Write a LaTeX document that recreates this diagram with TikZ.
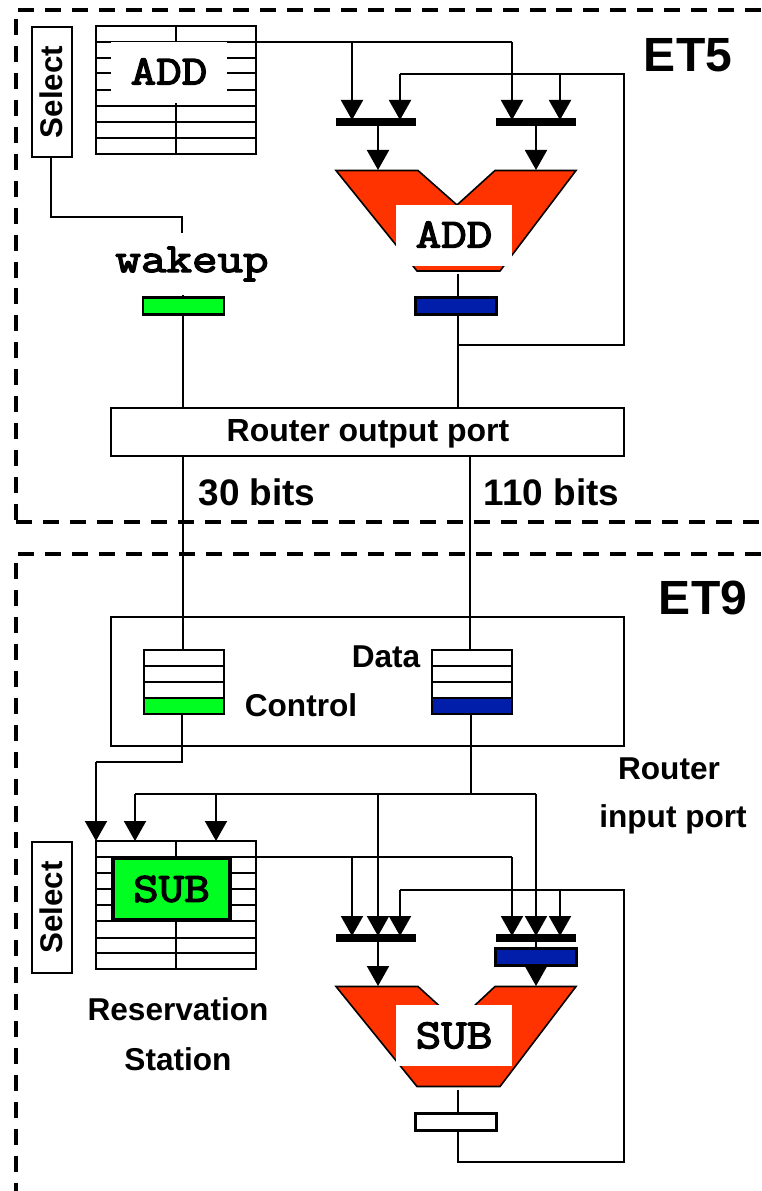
\documentclass[tikz,border=0pt]{standalone}
\usepackage{fontspec}
\setmainfont{Liberation Sans}
\newfontfamily\slabfont[FakeBold=3.4,FakeStretch=1.2]{Latin Modern Mono}
\usetikzlibrary{arrows.meta,calc}
\definecolor{alured}{RGB}{255,51,0}
\definecolor{busgreen}{RGB}{0,255,33}
\definecolor{busblue}{RGB}{0,30,170}
\tikzset{
  px/.style={x=0.75pt,y=-0.75pt},
  wire/.style={draw=black,line width=1.5pt,line cap=butt,line join=miter},
  feed/.style={wire,-{Triangle[length=15pt,width=16.5pt]},shorten >=0pt},
  region/.style={draw=black,line width=2.8pt,dash pattern=on 12pt off 8.2pt},
  mux/.style={fill=black,draw=none,inner sep=0pt,outer sep=0pt,minimum width=60pt,minimum height=6pt},
  reg/.style={draw=black,line width=1.8pt,inner sep=0pt,outer sep=0pt,minimum width=60.5pt,minimum height=12.5pt},
  alu/.style={draw=black,fill=alured,line width=1.2pt,line join=miter},
  sanslabel/.style={font=\fontsize{23.7}{28}\selectfont\bfseries,inner sep=0pt},
  bitslabel/.style={font=\fontsize{27.7}{32}\selectfont\bfseries,inner sep=0pt},
  etlabel/.style={font=\fontsize{36}{40}\selectfont\bfseries,inner sep=0pt},
  monolabel/.style={font=\fontsize{31}{32}\slabfont,inner sep=0pt},
  whitelabel/.style={monolabel,fill=white,minimum width=87pt,minimum height=45.5pt},
  greenlabel/.style={monolabel,fill=busgreen,draw=black,line width=3pt,minimum width=88pt,minimum height=46pt},
  selectbox/.style={draw=black,fill=white,line width=1.5pt,inner sep=0pt,minimum width=98pt,minimum height=29.5pt,rotate=90,font=\fontsize{23.5}{26}\selectfont\bfseries},
}
\begin{document}
\begin{tikzpicture}[px]
\useasboundingbox (0,0) rectangle (761,1191);
% ---- regions
\coordinate (e5tl) at (16,10); \coordinate (e5tr) at (761,10);
\coordinate (e5bl) at (16,522); \coordinate (e5br) at (761,522);
\coordinate (e9tl) at (16,554); \coordinate (e9tr) at (761,554);
\coordinate (e9bl) at (16,1191);
\draw[region] (e5tr) -- (e5tl) -- (e5bl);
\draw[region] (e5bl) -- (e5br);
\draw[region] (e9tr) -- (e9tl) -- (e9bl);
\node[etlabel] (et5) at (688,55) {ET5};
\node[etlabel] (et9) at (703,598) {ET9};

% ---- ET5 reservation table
\foreach \y in {26,42,58,73,90,106,122,138,154}{\draw[wire] (96,\y) -- (256,\y);}
\draw[wire] (96,26) rectangle (256,154);
\draw[wire] (176,26) -- (176,154);
\node[whitelabel] (addrs) at (169,72.5) {\raisebox{1.6pt}{ADD}};
\node[selectbox] (sel5) at (52,92) {\raisebox{1.5pt}{Select}};

% ---- ET5 adder
\coordinate (a1) at (336,170.5); \coordinate (a2) at (418,170.5); \coordinate (a3) at (457,205);
\coordinate (a4) at (495,170.5); \coordinate (a5) at (576,170.5); \coordinate (a6) at (500,271); \coordinate (a7) at (417,271);
\draw[alu] (a1) -- (a2) -- (a3) -- (a4) -- (a5) -- (a6) -- (a7) -- cycle;
\node[whitelabel] (addalu) at (454,235.5) {\raisebox{1.4pt}{ADD}};
\node[mux] (m1) at (376,122) {};
\node[mux] (m2) at (536,122) {};
\node[reg,fill=busgreen] (rg5) at (183.5,306) {};
\node[reg,fill=busblue] (rb5) at (456,306) {};
\node[monolabel] (wk) at (192,264) {wakeup};
\node[draw=black,fill=white,line width=1.5pt,inner sep=0pt,minimum width=384.5pt,minimum height=36pt] (rout) at (367.5,432) {};
\node[sanslabel,font=\fontsize{24}{28}\selectfont\bfseries] (routl) at (368,434) {Router output port};
\node[bitslabel] (b30) at (257,492.5) {30 bits};
\node[bitslabel] (b110) at (551.5,492.5) {110 bits};

% ET5 wires
\coordinate (t5r) at (256,42); \coordinate (t5a) at (352,42); \coordinate (t5b) at (512,42);
\draw[wire] (t5r) -- (t5b);
\draw[feed] (t5a) -- (352,120);
\draw[feed] (t5b) -- (512,120);
\coordinate (fb1) at (400,74); \coordinate (fb2) at (560,74); \coordinate (fb3) at (624,74); \coordinate (fb4) at (624,345); \coordinate (fb5) at (458,345);
\draw[wire] (fb5) -- (fb4) -- (fb3) -- (fb1);
\draw[feed] (fb1) -- (400,120);
\draw[feed] (fb2) -- (560,120);
\draw[feed] (378,125) -- (378,170);
\draw[feed] (536,125) -- (536,170);
\draw[wire] (458,274) -- (458,297);
\draw[wire] (458,315) -- (458,408);
\draw[wire] (183,295) -- (183,297);
\draw[wire] (183,315) -- (183,408);
\draw[wire] (51,158) -- (51,217) -- (182,217) -- (182,233);

% ---- router input port
\draw[wire] (111,617) rectangle (624,746);
\draw[wire] (183,456) -- (183,650);
\draw[wire] (470,456) -- (470,650);
\foreach \x in {143.5,432}{
  \draw[wire,fill=white] (\x,650) rectangle ++(80,64);
  \foreach \y in {666,682,698}{\draw[wire] (\x,\y) -- ++(80,0);}
}
\draw[wire,fill=busgreen] (143.5,698) rectangle (223.5,714);
\draw[wire,fill=busblue] (432,698) rectangle (512,714);
\node[sanslabel] (dat) at (386,657) {Data};
\node[sanslabel] (ctl) at (301,705) {Control};
\node[sanslabel] (rip1) at (669,769) {Router};
\node[sanslabel] (rip2) at (673,819) {input port};

% ---- ET9 reservation table
\foreach \y in {841,857,873,889,905,921,938,953,969}{\draw[wire] (96,\y) -- (256,\y);}
\draw[wire] (96,841) rectangle (256,969);
\draw[wire] (176,841) -- (176,969);
\node[greenlabel] (subrs) at (171.5,889) {SUB};
\node[selectbox] (sel9) at (52,907.5) {\raisebox{1.5pt}{Select}};
\node[sanslabel] (rs1) at (178,1009) {Reservation};
\node[sanslabel] (rs2) at (178,1059) {Station};

% ---- ET9 subtractor
\coordinate (s1) at (336,986.5); \coordinate (s2) at (418,986.5); \coordinate (s3) at (457,1022);
\coordinate (s4) at (495,986.5); \coordinate (s5) at (576,986.5); \coordinate (s6) at (500,1086.5); \coordinate (s7) at (417,1086.5);
\draw[alu] (s1) -- (s2) -- (s3) -- (s4) -- (s5) -- (s6) -- (s7) -- cycle;
\node[whitelabel] (subalu) at (454,1035.5) {SUB};
\node[mux] (m3) at (376,938) {};
\node[mux] (m4) at (536,938) {};
\node[reg,fill=white] (rw9) at (456,1122) {};
\node[reg,fill=busblue] (rb9) at (536,957) {};

% ET9 wires
\draw[wire] (182,714) -- (182,762) -- (96,762);
\draw[feed] (96,762) -- (96,841);
\draw[wire] (471,714) -- (471,794);
\coordinate (d1) at (135,794); \coordinate (d2) at (216,794); \coordinate (d3) at (378,794); \coordinate (d4) at (536,794);
\draw[wire] (d1) -- (d4);
\draw[feed] (d1) -- (135,841);
\draw[feed] (d2) -- (216,841);
\draw[feed] (d3) -- (378,936);
\draw[feed] (d4) -- (536,936);
\coordinate (t9r) at (256,857); \coordinate (t9a) at (352,857); \coordinate (t9b) at (512,857);
\draw[wire] (t9r) -- (t9b);
\draw[feed] (t9a) -- (352,936);
\draw[feed] (t9b) -- (512,936);
\coordinate (g1) at (400,890); \coordinate (g2) at (560,890); \coordinate (g3) at (624,890); \coordinate (g4) at (624,1162); \coordinate (g5) at (458,1162);
\draw[wire] (rw9.south -| g5) -- (g5) -- (g4) -- (g3) -- (g1);
\draw[feed] (g1) -- (400,936);
\draw[feed] (g2) -- (560,936);
\draw[feed] (378,941) -- (378,986);
\draw[wire] (536,941) -- (536,949);
\draw[feed] (536,965) -- (536,986);
\draw[wire] (458,1090) -- (458,1113);
\end{tikzpicture}
\end{document}
